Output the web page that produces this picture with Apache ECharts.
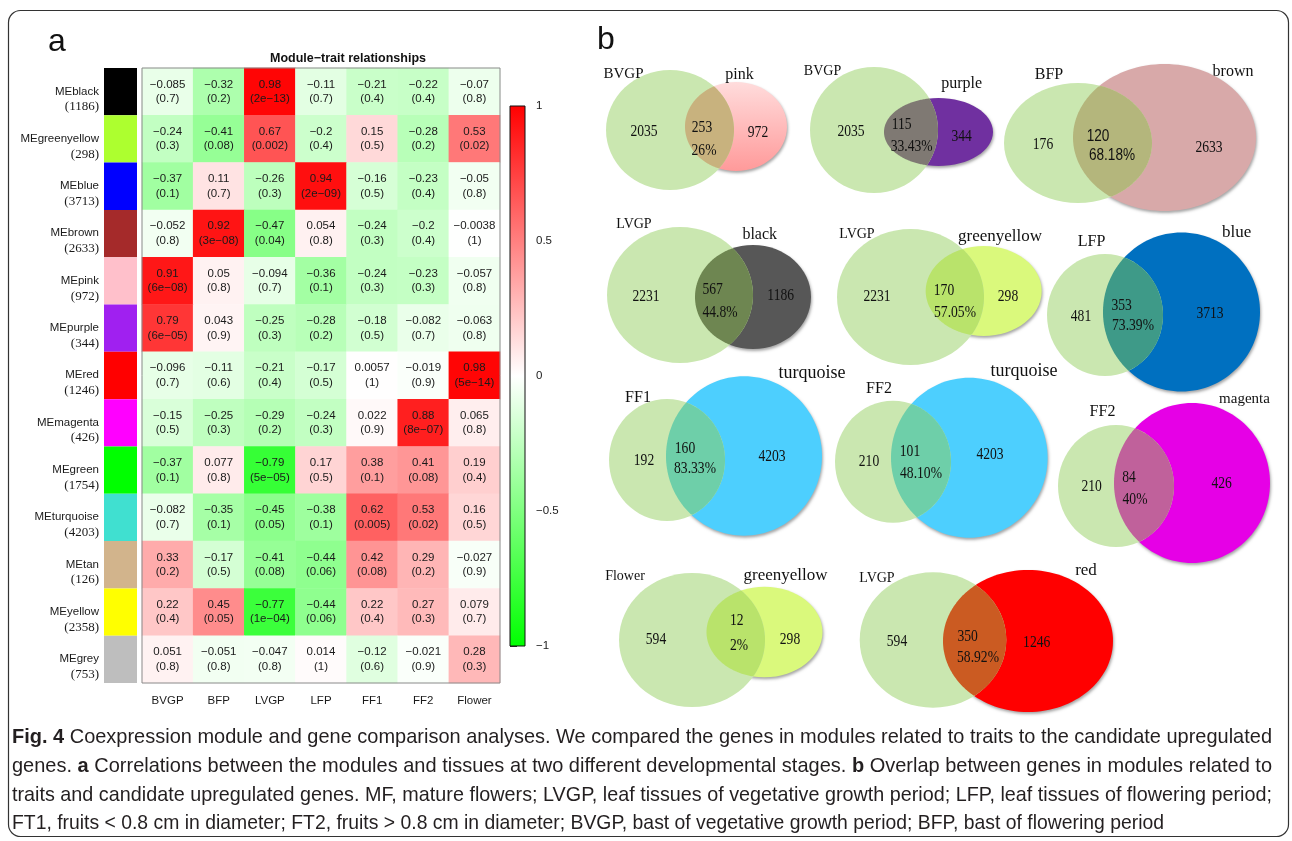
<!DOCTYPE html>
<html><head><meta charset="utf-8">
<script src="https://cdn.jsdelivr.net/npm/echarts@6/dist/echarts.min.js"></script>
<style>html,body{margin:0;padding:0;background:#fff}#c{width:1292px;height:841px}</style>
</head><body><div id="c"></div>
<script>
// ---------- Panel a data ----------
const traits = ['BVGP','BFP','LVGP','LFP','FF1','FF2','Flower'];
const modules = ['MEblack','MEgreenyellow','MEblue','MEbrown','MEpink','MEpurple','MEred','MEmagenta','MEgreen','MEturquoise','MEtan','MEyellow','MEgrey'];
const moduleSizes = [1186,298,3713,2633,972,344,1246,426,1754,4203,126,2358,753];
const moduleColors = ['#000000','#ADFF2F','#0000FF','#A52A2A','#FFC0CB','#A020F0','#FF0000','#FF00FF','#00FF00','#40E0D0','#D2B48C','#FFFF00','#BEBEBE'];
const moduleTraitCor = [
  [-0.085,-0.32,0.98,-0.11,-0.21,-0.22,-0.07],
  [-0.24,-0.41,0.67,-0.2,0.15,-0.28,0.53],
  [-0.37,0.11,-0.26,0.94,-0.16,-0.23,-0.05],
  [-0.052,0.92,-0.47,0.054,-0.24,-0.2,-0.0038],
  [0.91,0.05,-0.094,-0.36,-0.24,-0.23,-0.057],
  [0.79,0.043,-0.25,-0.28,-0.18,-0.082,-0.063],
  [-0.096,-0.11,-0.21,-0.17,0.0057,-0.019,0.98],
  [-0.15,-0.25,-0.29,-0.24,0.022,0.88,0.065],
  [-0.37,0.077,-0.79,0.17,0.38,0.41,0.19],
  [-0.082,-0.35,-0.45,-0.38,0.62,0.53,0.16],
  [0.33,-0.17,-0.41,-0.44,0.42,0.29,-0.027],
  [0.22,0.45,-0.77,-0.44,0.22,0.27,0.079],
  [0.051,-0.051,-0.047,0.014,-0.12,-0.021,0.28]
];
const moduleTraitP = [
  ['0.7','0.2','2e-13','0.7','0.4','0.4','0.8'],
  ['0.3','0.08','0.002','0.4','0.5','0.2','0.02'],
  ['0.1','0.7','0.3','2e-09','0.5','0.4','0.8'],
  ['0.8','3e-08','0.04','0.8','0.3','0.4','1'],
  ['6e-08','0.8','0.7','0.1','0.3','0.3','0.8'],
  ['6e-05','0.9','0.3','0.2','0.5','0.7','0.8'],
  ['0.7','0.6','0.4','0.5','1','0.9','5e-14'],
  ['0.5','0.3','0.2','0.3','0.9','8e-07','0.8'],
  ['0.1','0.8','5e-05','0.5','0.1','0.08','0.4'],
  ['0.7','0.1','0.05','0.1','0.005','0.02','0.5'],
  ['0.2','0.5','0.08','0.06','0.08','0.2','0.9'],
  ['0.4','0.05','1e-04','0.06','0.4','0.3','0.7'],
  ['0.8','0.8','0.8','1','0.6','0.9','0.3']
];
const colorbarTicks = [-1, -0.5, 0, 0.5, 1];

// ---------- Panel b data ----------
const vennSetA  = ['BVGP','BVGP','BFP','LVGP','LVGP','LFP','FF1','FF2','FF2','Flower','LVGP'];
const vennSetB  = ['pink','purple','brown','black','greenyellow','blue','turquoise','turquoise','magenta','greenyellow','red'];
const vennOnlyA = [2035,2035,176,2231,2231,481,192,210,210,594,594];
const vennBoth  = [253,115,120,567,170,353,160,101,84,12,350];
const vennOnlyB = [972,344,2633,1186,298,3713,4203,4203,426,298,1246];
const vennPct   = ['26%','33.43%','68.18%','44.8%','57.05%','73.39%','83.33%','48.10%','40%','2%','58.92%'];

// ---------- Panel b layout (local frame of the venn grid) ----------
const vennLayout = [
  {a:[80,90,64,60],   b:[146,86.5,51,44.5], nA:[33.5,34.3], nB:[149.5,35],  oA:[54,92],    bo:[112,88],    pc:[114,111],   oB:[168,93],    fB:[15,16], fill:'pink', lens:'#C8B27E'},
  {a:[284,90,64,63],  b:[348.5,92,54.5,34], nA:[232.5,31.7],nB:[371.7,44],  oA:[261,92],   bo:[311.7,85],  pc:[321.7,106.7],oB:[371.7,96.7], fB:[14,16], fill:'#7030A0', lens:'#7F7973'},
  {a:[488,103,74,60], b:[574.5,97.5,91.5,73.5], nA:[459,35], nB:[643,31.7], oA:[453,104.5],bo:[508,96.7],  pc:[522,115],   oB:[619,108],   fB:[16,16], fill:'#D8A9A9', lens:'#B4B67C', sans:true},
  {a:[90,255,73,68],  b:[163,257,58,52],    nA:[44,184],    nB:[169.7,195], oA:[56,256.7], bo:[122.7,250], pc:[130,272.7], oB:[190.7,256],  fB:[14,16], fill:'#575757', lens:'#6E8651'},
  {a:[320.5,257,73.5,68], b:[393.7,251,58,45], nA:[267,194], nB:[410,196.7], oA:[287,257],  bo:[354,250.7], pc:[365,273],   oB:[418,257],   fB:[14,17], fill:'#DAF97C', lens:'#B9E36B'},
  {a:[515,275,58,61], b:[591.5,272,78.5,79.5], nA:[501.5,201.7], nB:[646.7,192.7], oA:[491,276.7], bo:[531.7,265.7], pc:[543,286], oB:[620,273.3], fB:[16,17], fill:'#0070C0', lens:'#3E9A88'},
  {a:[77,420,58,61],  b:[154,416,78,79.7],  nA:[48,358],    nB:[222,333],   oA:[54,420.7], bo:[95,409],    pc:[105,429],   oB:[182,417],   fB:[16,18], fill:'#4DCFFE', lens:'#6ECFA9'},
  {a:[303,421.7,58,61], b:[379.3,417.7,78.3,80], nA:[289,349], nB:[434,331.7], oA:[279,422], bo:[320,411.7], pc:[331,434], oB:[400,415], fB:[16,18], fill:'#4DCFFE', lens:'#6ECFA9'},
  {a:[526,446,58,61], b:[602,443,78,80],    nA:[512.5,371.7], nB:[654.5,359], oA:[501.7,447], bo:[539,438], pc:[545,460], oB:[631.7,444], fB:[16,15], fill:'#E600E6', lens:'#C0619B'},
  {a:[102,600,73,67], b:[174.5,592,58,45.3], nA:[35,536],   nB:[195.5,536], oA:[66,600],   bo:[146.7,580.7], pc:[149,606], oB:[200,600],   fB:[14,17], fill:'#DAF97C', lens:'#B9E36B'},
  {a:[343,600,73.3,67.7], b:[438,601,85,71], nA:[287,538],  nB:[496,530.7], oA:[307,602],  bo:[377.7,596.7], pc:[388,618], oB:[446.7,602.7], fB:[14,17], fill:'#FF0000', lens:'#CB5B22'}
];
const vennColorA = '#CAE7B0';

const SANS = '"Liberation Sans", Arial, Helvetica, sans-serif';
const SERIF = '"Liberation Serif", "Times New Roman", serif';
const NARROW = '"Liberation Sans Narrow", "Liberation Sans", sans-serif';
const minus = s => String(s).replace(/-/g, '\u2212');

// heatmap data
const heatData = [];
moduleTraitCor.forEach((row, r) => row.forEach((v, c) => heatData.push([c, r, v])));

function inside(e, p) { const dx = (p[0]-e.cx)/e.rx, dy = (p[1]-e.cy)/e.ry; return dx*dx + dy*dy <= 1.0001; }
function lensPoints(a, b) {
  const pts = []; const N = 360;
  for (let k = 0; k < N; k++) {
    const t = 2*Math.PI*k/N;
    const p = [a.cx + a.rx*Math.cos(t), a.cy + a.ry*Math.sin(t)]; if (inside(b, p)) pts.push(p);
    const q = [b.cx + b.rx*Math.cos(t), b.cy + b.ry*Math.sin(t)]; if (inside(a, q)) pts.push(q);
  }
  const c = [0,0]; pts.forEach(p => { c[0] += p[0]; c[1] += p[1]; }); c[0] /= pts.length; c[1] /= pts.length;
  pts.sort((p, q) => Math.atan2(p[1]-c[1], p[0]-c[0]) - Math.atan2(q[1]-c[1], q[0]-c[0]));
  return pts;
}

const chart = echarts.init(document.getElementById('c'), null, {renderer: 'canvas'});

// caption
const capFamily = NARROW;
const capSize = 21;
const captionLines = [
  [['b','Fig. 4'],['r',' Coexpression module and gene comparison analyses. We compared the genes in modules related to traits to the candidate upregulated']],
  [['r','genes. '],['b','a'],['r',' Correlations between the modules and tissues at two different developmental stages. '],['b','b'],['r',' Overlap between genes in modules related to']],
  [['r','traits and candidate upregulated genes. MF, mature flowers; LVGP, leaf tissues of vegetative growth period; LFP, leaf tissues of flowering period;']],
  [['r','FT1, fruits < 0.8 cm in diameter; FT2, fruits > 0.8 cm in diameter; BVGP, bast of vegetative growth period; BFP, bast of flowering period']]
];
const capY = [737, 766, 795, 823];
const capTargets = [1260, 1260, 1260, 1152];
const ctx = document.createElement('canvas').getContext('2d');
function measure(segs) {
  let w = 0;
  segs.forEach(([k, t]) => { ctx.font = (k === 'b' ? 'bold ' : '') + capSize + 'px ' + capFamily; w += ctx.measureText(t).width; });
  return w;
}
const captionGraphics = captionLines.map((segs, i) => ({
  type: 'text', x: 12, y: capY[i], scaleX: capTargets[i] / measure(segs),
  style: {
    text: segs.map(([k, t]) => '{' + k + '|' + t + '}').join(''),
    rich: {
      b: {fontFamily: capFamily, fontSize: capSize, fontWeight: 'bold', fill: '#231F20'},
      r: {fontFamily: capFamily, fontSize: capSize, fill: '#231F20'}
    },
    fill: '#231F20', verticalAlign: 'middle', align: 'left'
  }
}));

const option = {
  animation: false,
  backgroundColor: '#fff',
  grid: [
    {left: 142, top: 68, width: 358, height: 615, containLabel: false, outerBoundsMode: 'none', show: true, borderColor: '#8a8a8a', borderWidth: 1, backgroundColor: 'transparent', z: 10},
    {left: 104, top: 68, width: 33, height: 615, containLabel: false, outerBoundsMode: 'none'},
    {left: 510, top: 106, width: 15, height: 540, containLabel: false, outerBoundsMode: 'none'},
    {left: 590, top: 40, width: 700, height: 700, containLabel: false, outerBoundsMode: 'none'}
  ],
  xAxis: [
    {gridIndex: 0, type: 'category', data: traits, position: 'bottom', axisLine: {show: false}, axisTick: {show: false}, splitLine: {show: false},
     axisLabel: {fontFamily: SANS, fontSize: 11.5, color: '#1a1a1a', margin: 12}},
    {gridIndex: 1, type: 'value', min: 0, max: 1, show: false},
    {gridIndex: 2, type: 'value', min: 0, max: 1, show: false},
    {gridIndex: 3, type: 'value', min: 0, max: 700, show: false}
  ],
  yAxis: [
    {gridIndex: 0, type: 'category', data: modules, inverse: true, show: false},
    {gridIndex: 1, type: 'category', data: modules, inverse: true, axisLine: {show: false}, axisTick: {show: false}, splitLine: {show: false},
     axisLabel: {margin: 5, align: 'right', padding: [15, 0, 0, 0],
       formatter: (v, idx) => '{n|' + v + '}\n{c|(' + moduleSizes[idx] + ')}',
       rich: {n: {fontFamily: SANS, fontSize: 11.5, color: '#1a1a1a', lineHeight: 15.5, align: 'right'},
              c: {fontFamily: SERIF, fontSize: 13, color: '#1a1a1a', lineHeight: 15.5, align: 'right'}}}},
    {gridIndex: 2, type: 'value', min: -1, max: 1, interval: 0.5, position: 'right',
     axisLine: {show: false}, splitLine: {show: false},
     axisTick: {show: true, length: 7, lineStyle: {color: '#333', width: 1}},
     axisLabel: {margin: 11, fontFamily: SANS, fontSize: 11.5, color: '#1a1a1a', formatter: v => colorbarTicks.indexOf(v) >= 0 ? minus(v) : ''}},
    {gridIndex: 3, type: 'value', min: 0, max: 700, inverse: true, show: false}
  ],
  visualMap: {type: 'continuous', show: false, min: -1, max: 1, dimension: 2, seriesIndex: 0,
    inRange: {color: ['#00FF00', '#FFFFFF', '#FF0000']}},
  series: [
    {type: 'heatmap', xAxisIndex: 0, yAxisIndex: 0, data: heatData, emphasis: {disabled: true},
     label: {show: true, fontFamily: SANS, fontSize: 11.5, color: '#1a1a1a', lineHeight: 14.5,
       formatter: p => minus(p.value[2]) + '\n(' + minus(moduleTraitP[p.value[1]][p.value[0]]) + ')'}},
    {type: 'bar', xAxisIndex: 1, yAxisIndex: 1, barWidth: '100%', barCategoryGap: 0, silent: true,
     data: moduleColors.map(c => ({value: 1, itemStyle: {color: c}}))},
    {type: 'custom', xAxisIndex: 2, yAxisIndex: 2, silent: true, clip: false, data: [[0, 0]],
     renderItem: (params, api) => {
       const p0 = api.coord([0, 1]), p1 = api.coord([1, -1]);
       return {type: 'rect', shape: {x: p0[0], y: p0[1], width: p1[0]-p0[0], height: p1[1]-p0[1]},
         style: {fill: new echarts.graphic.LinearGradient(0, 0, 0, 1, [
           {offset: 0, color: '#FF0000'}, {offset: 0.5, color: '#FFFFFF'}, {offset: 1, color: '#00FF00'}]),
           stroke: '#111', lineWidth: 1}};
     }},
    {type: 'custom', xAxisIndex: 3, yAxisIndex: 3, silent: true, clip: false,
     data: vennSetA.map((_, i) => [i, 0]), encode: {x: 0, y: 1},
     renderItem: (params, api) => {
       const i = api.value(0);
       const L = vennLayout[i];
       const toPx = e => { const c = api.coord([e[0], e[1]]); const s = api.size([e[2], e[3]]);
         return {cx: c[0], cy: c[1], rx: Math.abs(s[0]), ry: Math.abs(s[1])}; };
       const A = toPx(L.a), B = toPx(L.b);
       const fillB = L.fill === 'pink'
         ? new echarts.graphic.LinearGradient(0, 0, 0, 1, [{offset: 0, color: '#FFDCDC'}, {offset: 1, color: '#FF9A9A'}])
         : L.fill;
       const txt = (pos, text, family, size, sx) => {
         const p = api.coord(pos);
         return {type: 'text', x: p[0], y: p[1], scaleX: sx,
           style: {text: String(text), fontFamily: family, fontSize: size, fill: '#111', align: 'center', verticalAlign: 'middle'}};
       };
       const lensFam = L.sans ? SANS : SERIF;
       return {type: 'group', children: [
         {type: 'ellipse', shape: B, style: {fill: fillB, shadowBlur: 3, shadowOffsetX: 1, shadowOffsetY: 2, shadowColor: 'rgba(0,0,0,0.35)'}},
         {type: 'ellipse', shape: A, style: {fill: vennColorA}},
         {type: 'polygon', shape: {points: lensPoints(A, B)}, style: {fill: L.lens}},
         txt(L.nA, vennSetA[i], SERIF, L.fB[0], 1),
         txt(L.nB, vennSetB[i], SERIF, L.fB[1], 1),
         txt(L.oA, vennOnlyA[i], SERIF, 17, 0.8),
         txt(L.bo, vennBoth[i], lensFam, 17, 0.8),
         txt(L.pc, vennPct[i], lensFam, 17, 0.8),
         txt(L.oB, vennOnlyB[i], SERIF, 17, 0.8)
       ]};
     }}
  ],
  graphic: [
    {type: 'rect', shape: {x: 8.5, y: 10.5, width: 1280, height: 826, r: 12}, style: {fill: 'none', stroke: '#333', lineWidth: 1.2}, z: -1},
    {type: 'text', x: 57, y: 42, style: {text: 'a', fontFamily: SANS, fontSize: 32, fill: '#111', align: 'center', verticalAlign: 'middle'}},
    {type: 'text', x: 606, y: 40, style: {text: 'b', fontFamily: SANS, fontSize: 32, fill: '#111', align: 'center', verticalAlign: 'middle'}},
    {type: 'text', x: 348, y: 59, style: {text: 'Module\u2212trait relationships', fontFamily: SANS, fontSize: 12.5, fontWeight: 'bold', fill: '#111', align: 'center', verticalAlign: 'middle'}}
  ].concat(captionGraphics)
};
chart.setOption(option);
</script></body></html>
